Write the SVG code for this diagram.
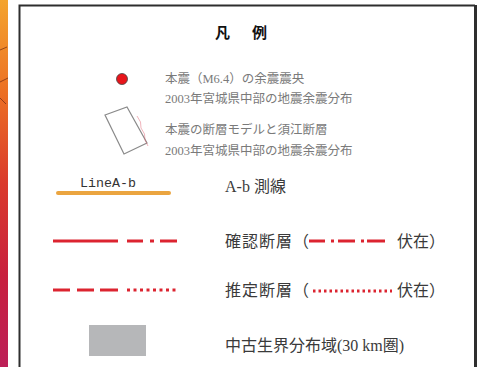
<svg xmlns="http://www.w3.org/2000/svg" width="477" height="367" viewBox="0 0 477 367">
<defs>
<linearGradient id="strip" x1="0" y1="0" x2="0" y2="1">
<stop offset="0" stop-color="#F4A42E"/>
<stop offset="0.25" stop-color="#EC7024"/>
<stop offset="0.5" stop-color="#DA3A2C"/>
<stop offset="0.75" stop-color="#C8203E"/>
<stop offset="1" stop-color="#BC2058"/>
</linearGradient>
<style>
.gt{font-family:"Liberation Serif","Noto Sans CJK JP",serif;font-size:12.5px;fill:#7a7a7a}
.bt{font-family:"Liberation Serif","Noto Sans CJK JP",serif;font-size:16px;fill:#3a3a3a}
.red{stroke:#DC2430;stroke-width:3;fill:none}
</style>
</defs>
<rect x="0" y="0" width="477" height="367" fill="#ffffff"/>
<g id="strip-bg">
<rect x="0" y="0" width="8" height="367" fill="url(#strip)"/>
<path d="M0 50 L7 47 M0 82 L8 78 M0 98 L6 104" stroke="#5a1a10" stroke-width="1" fill="none" opacity="0.6"/>
</g>
<g id="frame" fill="none" stroke="#2e2e2e">
<path d="M19.5 367 L19.5 5.5 L475 5.5" stroke-width="2"/>
<path d="M475.5 5 L475.5 367" stroke-width="3"/>
</g>
<g id="title">
<text x="215" y="38" font-family="Liberation Sans,'Noto Sans CJK JP',sans-serif" font-size="15" font-weight="bold" fill="#111">凡</text>
<text x="252" y="38" font-family="Liberation Sans,'Noto Sans CJK JP',sans-serif" font-size="15" font-weight="bold" fill="#111">例</text>
</g>
<g id="item-epicenter">
<circle cx="122" cy="79" r="5.5" fill="#E8151B" stroke="#444" stroke-width="0.8"/>
<text class="gt" x="165" y="83">本震（M6.4）の余震震央</text>
<text class="gt" x="165" y="103">2003年宮城県中部の地震余震分布</text>
</g>
<g id="item-faultmodel">
<polygon points="105,115 127,107 147,143 124,154" fill="none" stroke="#8a8a8a" stroke-width="1.2"/>
<path d="M137 116 Q142 122 141 128 Q146 134 145 140 L148 146" fill="none" stroke="#E06070" stroke-width="0.8" opacity="0.6"/>
<text class="gt" x="165" y="134">本震の断層モデルと須江断層</text>
<text class="gt" x="165" y="155">2003年宮城県中部の地震余震分布</text>
</g>
<g id="item-survey-line">
<text x="80" y="187" font-family="Liberation Mono,monospace" font-size="13.3" fill="#333">LineA-b</text>
<line x1="58" y1="193" x2="169" y2="193" stroke="#EBA540" stroke-width="4" stroke-linecap="round"/>
<text class="bt" x="225" y="192">A-b 測線</text>
</g>
<g id="item-confirmed-fault">
<path class="red" d="M53 241 H118 M127 241 H143 M150 241 H154 M160 241 H177"/>
<text class="bt" x="225" y="247" letter-spacing="1">確認断層（</text>
<path class="red" stroke-width="4" d="M309 241 H325 M331 241 H334 M338 241 H355 M361 241 H364 M367 241 H385"/>
<text class="bt" x="397" y="247">伏在）</text>
</g>
<g id="item-estimated-fault">
<path class="red" d="M53 290 H70 M77 290 H94 M100 290 H118"/>
<path class="red" d="M127 290 H177" stroke-dasharray="3 3.5" stroke-width="3"/>
<text class="bt" x="225" y="296" letter-spacing="1">推定断層（</text>
<path class="red" d="M313 291 H392" stroke-dasharray="2.5 3" stroke-width="2.5"/>
<text class="bt" x="397" y="296">伏在）</text>
</g>
<g id="item-paleozoic">
<rect x="89" y="325" width="57" height="31" fill="#B6B7B9"/>
<text class="bt" x="225" y="351">中古生界分布域(30 km圏)</text>
</g>
</svg>
